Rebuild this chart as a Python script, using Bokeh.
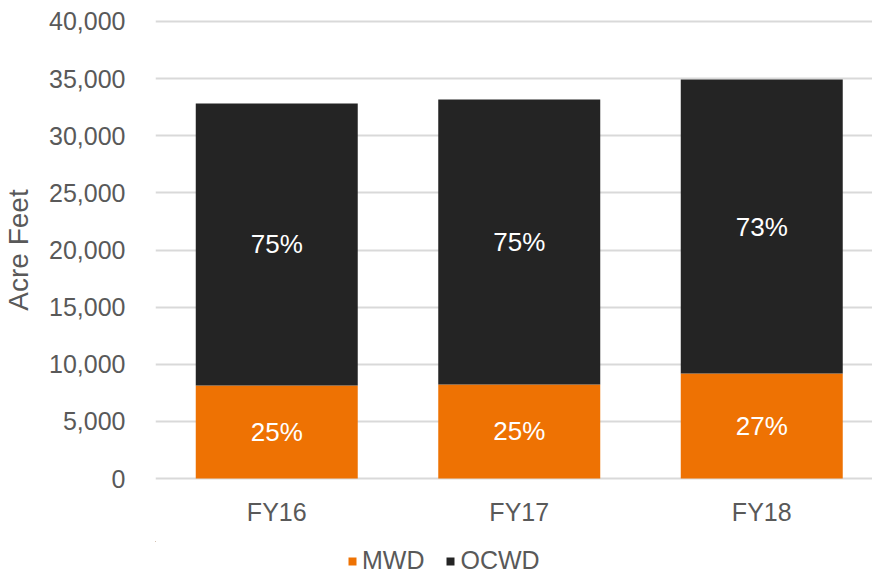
from bokeh.plotting import figure
from bokeh.layouts import column
from bokeh.models import (ColumnDataSource, Range1d, FixedTicker, NumeralTickFormatter,
                          Legend, LegendItem)
from bokeh.core.properties import value
from bokeh.embed import file_html
from bokeh.resources import INLINE

# ---- data ----
categories = ["FY16", "FY17", "FY18"]
mwd = [8150, 8230, 9190]
ocwd = [24670, 24940, 25730]
mwd_pct = ["25%", "25%", "27%"]
ocwd_pct = ["75%", "75%", "73%"]
series_names = ["MWD", "OCWD"]
y_ticks = [0, 5000, 10000, 15000, 20000, 25000, 30000, 35000, 40000]

ORANGE = "#EE7203"
BLACK = "#242424"
GRAY = "#595959"
FONT = "Liberation Sans"
W = 872
H1 = 541
H2 = 575 - H1

xs = list(range(len(categories)))
src = ColumnDataSource(dict(
    x=xs, mwd=mwd, ocwd=ocwd,
    mwd_mid=[m / 2 for m in mwd],
    ocwd_mid=[m + o / 2 for m, o in zip(mwd, ocwd)],
    mwd_pct=mwd_pct, ocwd_pct=ocwd_pct,
))

p = figure(width=W, height=H1, output_backend="svg", toolbar_location=None,
           x_range=Range1d(-0.5, 2.4567), y_range=Range1d(-175, 40175),
           min_border_left=155, min_border_right=0, min_border_top=19,
           min_border_bottom=H1 - 480)
p.outline_line_color = None

p.vbar_stack(["mwd", "ocwd"], x="x", width=0.668, color=[ORANGE, BLACK],
             line_color=None, source=src)

for ycol, tcol in (("mwd_mid", "mwd_pct"), ("ocwd_mid", "ocwd_pct")):
    p.text(x="x", y=ycol, text=tcol, source=src, text_align="center",
           text_baseline="middle", text_color="white", text_font=value(FONT),
           text_font_size="26px")

# axes and grid
p.xgrid.visible = False
p.ygrid.grid_line_color = "#D9D9D9"
p.ygrid.grid_line_width = 1.8
p.ygrid.ticker = FixedTicker(ticks=y_ticks)

p.yaxis.ticker = FixedTicker(ticks=y_ticks)
p.yaxis.formatter = NumeralTickFormatter(format="0,0")
p.yaxis.axis_label = "Acre Feet"
p.yaxis.axis_label_text_font = FONT
p.yaxis.axis_label_text_font_style = "normal"
p.yaxis.axis_label_text_font_size = "28px"
p.yaxis.axis_label_text_color = GRAY
p.yaxis.axis_label_standoff = 12
p.yaxis.major_label_standoff = 24

p.xaxis.ticker = FixedTicker(ticks=xs)
p.xaxis.major_label_overrides = {i: c for i, c in enumerate(categories)}
p.xaxis.major_label_standoff = 11

for ax in (p.xaxis, p.yaxis):
    ax.axis_line_color = None
    ax.major_tick_line_color = None
    ax.minor_tick_line_color = None
    ax.major_label_text_font = FONT
    ax.major_label_text_font_size = "25px"
    ax.major_label_text_color = GRAY

# legend strip underneath (its frame is aligned with the main frame);
# its proxy bars have zero width and sit outside its ranges, so only the legend shows
p2 = figure(width=W, height=H2, output_backend="svg", toolbar_location=None,
            x_range=Range1d(100, 101), y_range=Range1d(-200000, -100000), min_border=0)
p2.axis.visible = False
p2.grid.visible = False
p2.outline_line_color = None
items = []
for name, col, field in zip(series_names, [ORANGE, BLACK], ["mwd", "ocwd"]):
    rr = p2.vbar(x="x", top=field, width=0, color=col, line_color=None, source=src)
    items.append(LegendItem(label=name, renderers=[rr]))

legend = Legend(items=items, orientation="horizontal", location=(347 - 155, 0),
                glyph_width=10, glyph_height=10, label_standoff=5, spacing=21,
                padding=0, margin=0, border_line_color=None,
                background_fill_alpha=0,
                label_text_font=FONT, label_text_font_size="25px",
                label_text_color=GRAY)
p2.add_layout(legend, "center")

layout = column(p, p2, spacing=0)
open("out.html", "w").write(file_html(layout, INLINE))
